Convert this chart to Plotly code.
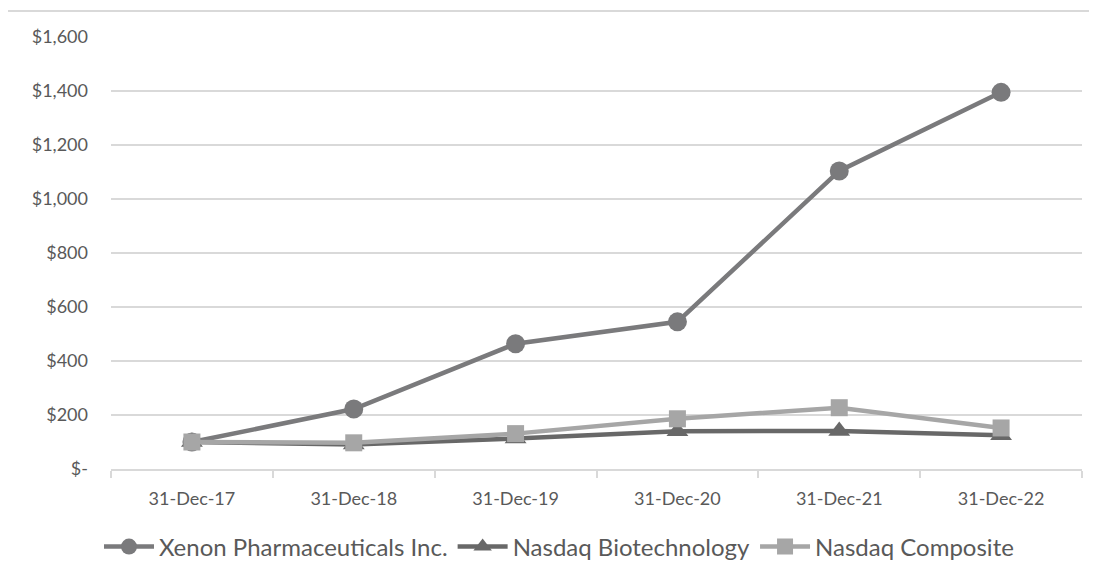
import plotly.graph_objects as go

categories = ["31-Dec-17", "31-Dec-18", "31-Dec-19", "31-Dec-20", "31-Dec-21", "31-Dec-22"]
xenon = [100, 222, 464, 545, 1104, 1395]
biotech = [100, 91, 113, 140, 141, 125]
composite = [100, 97, 131, 186, 227, 152]
y_tickvals = [0, 200, 400, 600, 800, 1000, 1200, 1400, 1600]
y_ticktext = ["$-", "$200", "$400", "$600", "$800", "$1,000", "$1,200", "$1,400", "$1,600"]

FONT = "Lato"
# page body has an 8px margin, so the figure is sized/offset to compensate
W, H = 1089, 567
fig = go.Figure()
fig.add_trace(go.Scatter(x=categories, y=xenon, name="Xenon Pharmaceuticals Inc.",
                         mode="lines+markers",
                         line=dict(color="#7a7a7c", width=4.5),
                         marker=dict(symbol="circle", size=19, color="#7a7a7c")))
fig.add_trace(go.Scatter(x=categories, y=biotech, name="Nasdaq Biotechnology",
                         mode="lines+markers",
                         line=dict(color="#686868", width=4.5),
                         marker=dict(symbol="triangle-up", size=19, color="#686868")))
fig.add_trace(go.Scatter(x=categories, y=composite, name="Nasdaq Composite",
                         mode="lines+markers",
                         line=dict(color="#a6a6a6", width=4.5),
                         marker=dict(symbol="square", size=17, color="#a6a6a6")))

plot_h = 432
fig.update_layout(
    width=W, height=H,
    margin=dict(l=103, r=15, t=29, b=106, autoexpand=False),
    paper_bgcolor="white", plot_bgcolor="white",
    font=dict(family=FONT, size=18, color="#595959"),
    showlegend=True,
    legend=dict(orientation="h", x=(559 - 8 - 103) / 971, xanchor="center",
                y=-(539 - 461) / plot_h, yanchor="middle",
                font=dict(family=FONT, size=24, color="#595959"), traceorder="normal",
                itemwidth=50),
    xaxis=dict(type="category", range=[-0.5, 5.5], showgrid=False, automargin=False,
               showline=True, linecolor="#d9d9d9", linewidth=1.5,
               ticks="outside", tickson="boundaries", ticklen=7, tickcolor="#d9d9d9",
               tickwidth=1.5, ticklabelstandoff=13, tickfont=dict(size=18, color="#595959")),
    yaxis=dict(range=[0, 1600], tickvals=y_tickvals, ticktext=y_ticktext, automargin=False,
               showgrid=True, gridcolor="#d9d9d9", gridwidth=1.5, zeroline=False,
               showline=False, ticks="", ticklabelstandoff=22,
               tickfont=dict(size=18, color="#595959")),
    shapes=[dict(type="rect", xref="paper", yref="paper",
                 x0=(-1 - 103) / 971, x1=1.2, y0=-0.4, y1=1 + 26 / plot_h,
                 line=dict(color="#d9d9d9", width=2), fillcolor="rgba(0,0,0,0)", layer="below")],
)
fig.write_html("out.html")
